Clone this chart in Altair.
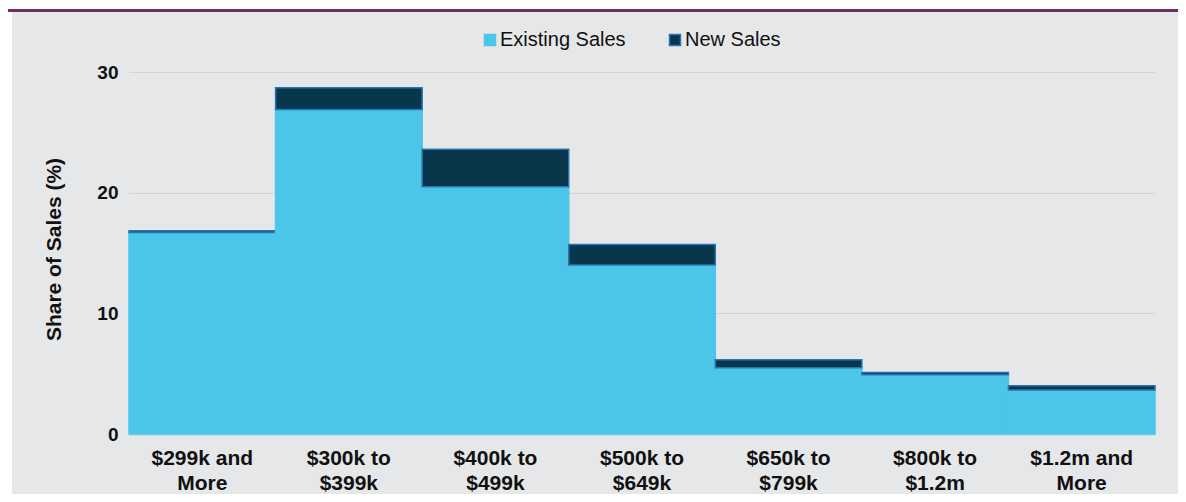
import altair as alt
import pandas as pd

categories = ["$299k and|More", "$300k to|$399k", "$400k to|$499k", "$500k to|$649k",
              "$650k to|$799k", "$800k to|$1.2m", "$1.2m and|More"]
existing_sales = [16.7, 26.9, 20.5, 14.0, 5.5, 4.9, 3.65]
new_sales = [0.15, 1.8, 3.1, 1.7, 0.65, 0.2, 0.35]
series_names = ["Existing Sales", "New Sales"]
y_ticks = [0, 10, 20, 30]

rows = []
for c, e, n in zip(categories, existing_sales, new_sales):
    rows.append({"band": c, "series": series_names[0], "value": e, "o": 0})
    rows.append({"band": c, "series": series_names[1], "value": n, "o": 1})
df = pd.DataFrame(rows)

W, H = 1026, 362
PL, PT, PR, PB = 121, 64, 23, 60
FONT = "Liberation Sans"

one = alt.Data(values=[{}])

white_top = alt.Chart(one).mark_rect(color="white").encode(
    x=alt.value(-PL), x2=alt.value(W + PR), y=alt.value(-PT), y2=alt.value(-61))
white_left = alt.Chart(one).mark_rect(color="white").encode(
    x=alt.value(-PL), x2=alt.value(-PL + 4), y=alt.value(-PT), y2=alt.value(H + PB))
purple = alt.Chart(one).mark_rule(color="#6E2F5E", strokeWidth=3).encode(
    x=alt.value(-PL), x2=alt.value(W + PR), y=alt.value(-61.5))

legend_cfg = dict(title=None, orient="none", legendX=351, legendY=-42,
                  direction="horizontal", symbolType="square", symbolSize=121,
                  labelFont=FONT, labelFontSize=20, labelColor="#111111",
                  labelOffset=0, columnPadding=39, symbolStrokeWidth=1.5)

bars = alt.Chart(df).mark_bar(strokeWidth=1.5).encode(
    x=alt.X("band:N", sort=categories, title=None,
            scale=alt.Scale(paddingInner=0, paddingOuter=0),
            axis=alt.Axis(labelExpr="split(datum.label, '|')", labelAngle=0,
                          labelFont=FONT, labelFontSize=21, labelFontWeight="bold",
                          labelColor="#111111", labelLineHeight=25, labelPadding=13,
                          ticks=False, domainColor="#C5D0D6", domainWidth=2, grid=False)),
    y=alt.Y("value:Q", stack="zero", title="Share of Sales (%)",
            scale=alt.Scale(domain=[0, 30], nice=False),
            axis=alt.Axis(values=y_ticks, labelFont=FONT, labelFontSize=19,
                          labelFontWeight="bold", labelColor="#111111", labelPadding=11,
                          ticks=False, domain=False, grid=True, gridColor="#D6D3D0",
                          gridWidth=1, titleFont=FONT, titleFontSize=21, titleY=177,
                          titleFontWeight="bold", titleColor="#111111", titlePadding=32)),
    fill=alt.Fill("series:N", scale=alt.Scale(domain=series_names, range=["#4BC6E8", "#08364A"]),
                  legend=alt.Legend(**legend_cfg)),
    stroke=alt.Stroke("series:N", scale=alt.Scale(domain=series_names, range=["#4BC6E8", "#2A74B0"]),
                      legend=alt.Legend(**legend_cfg)),
    order=alt.Order("o:Q"),
)

chart = alt.layer(white_top, white_left, purple, bars).properties(
    width=W, height=H,
    autosize=alt.AutoSizeParams(type="none"),
    padding={"left": PL, "top": PT, "right": PR, "bottom": PB},
    background="#E6E7E9",
).configure_view(stroke=None)

chart.save("out.html", embed_options={"renderer": "svg", "actions": False})
